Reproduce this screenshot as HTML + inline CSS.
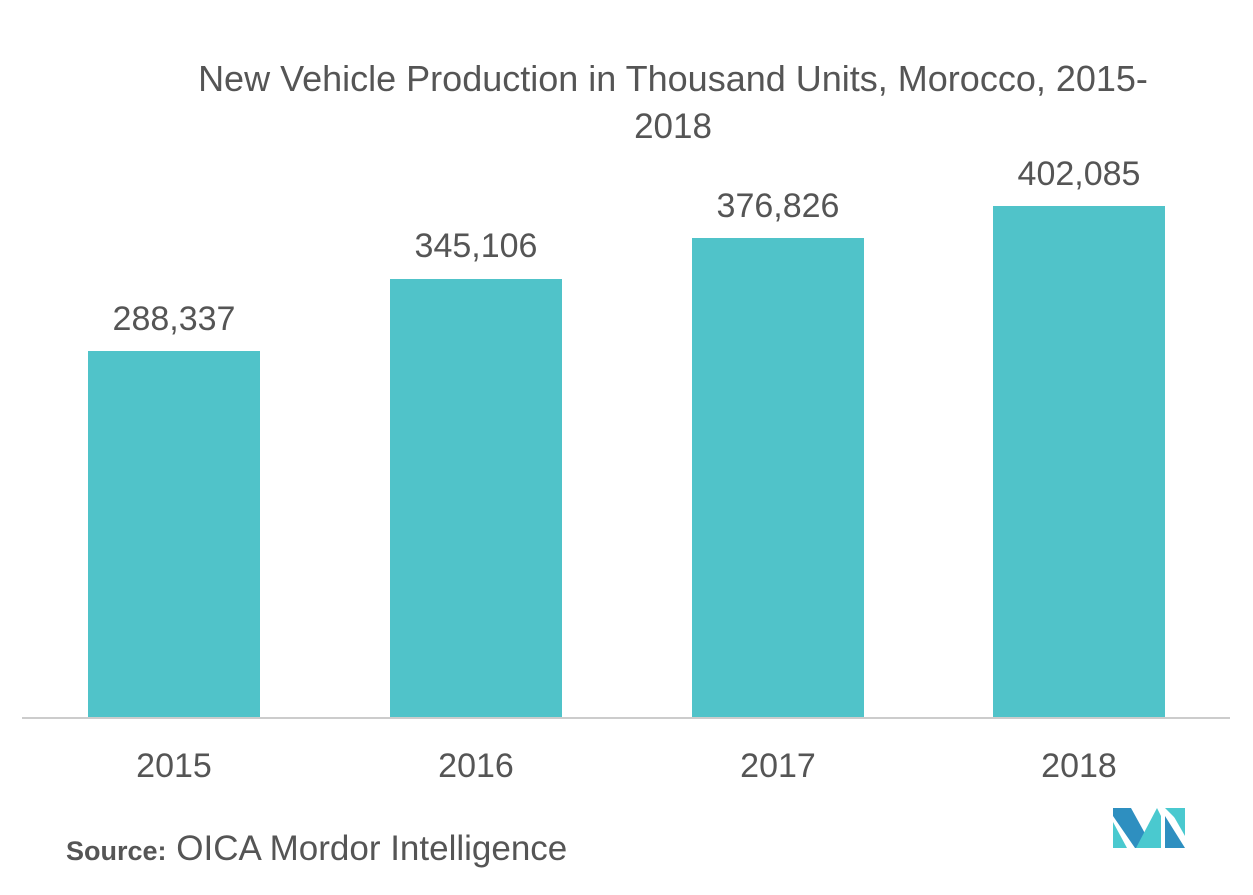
<!DOCTYPE html>
<html><head><meta charset="utf-8"><style>
body{margin:0;width:1253px;height:895px;background:#fff;position:relative;font-family:"Liberation Sans",sans-serif;overflow:hidden}
.t{position:absolute;color:#555;white-space:nowrap}
.bar{position:absolute;background:#50c3c9;width:172px}
</style></head><body>
<div class="t" style="left:0;width:1346px;text-align:center;top:55px;font-size:36px;line-height:48px;color:#555">New Vehicle Production in Thousand Units, Morocco, 2015-</div>
<div class="t" style="left:0;width:1346px;text-align:center;top:103px;font-size:35px;line-height:48px">2018</div>
<div class="bar" style="left:88px;top:351px;height:367px"></div>
<div class="bar" style="left:390px;top:279px;height:439px"></div>
<div class="bar" style="left:692px;top:238px;height:480px"></div>
<div class="bar" style="left:993px;top:206px;height:512px"></div>
<div style="position:absolute;left:22px;width:1208px;top:717px;height:2px;background:#ccc"></div>
<div class="t" style="left:88px;width:172px;text-align:center;top:300px;font-size:34px">288,337</div>
<div class="t" style="left:390px;width:172px;text-align:center;top:227px;font-size:34px">345,106</div>
<div class="t" style="left:692px;width:172px;text-align:center;top:187px;font-size:34px">376,826</div>
<div class="t" style="left:993px;width:172px;text-align:center;top:155px;font-size:34px">402,085</div>
<div class="t" style="left:88px;width:172px;text-align:center;top:747px;font-size:34px">2015</div>
<div class="t" style="left:390px;width:172px;text-align:center;top:747px;font-size:34px">2016</div>
<div class="t" style="left:692px;width:172px;text-align:center;top:747px;font-size:34px">2017</div>
<div class="t" style="left:993px;width:172px;text-align:center;top:747px;font-size:34px">2018</div>
<div class="t" style="left:66px;top:829px;font-size:35px"><b style="font-size:27px">Source:</b> OICA Mordor Intelligence</div>
<svg style="position:absolute;left:1113px;top:808px" width="73" height="41">
<polygon points="0,0 18,0 40,40 22,40 0,8" fill="#2e8fc0"/>
<polygon points="0,14 0,40 14,40" fill="#4ac9cf"/>
<polygon points="23,40 44,0 48,8 48,40" fill="#4ac9cf"/>
<polygon points="52,0 72,0 72,20" fill="#4ac9cf"/>
<polygon points="52,8 72,40 52,40" fill="#2e8fc0"/>
<polygon points="56,0 72,0 72,28" fill="#4ac9cf"/>
</svg>
</body></html>
